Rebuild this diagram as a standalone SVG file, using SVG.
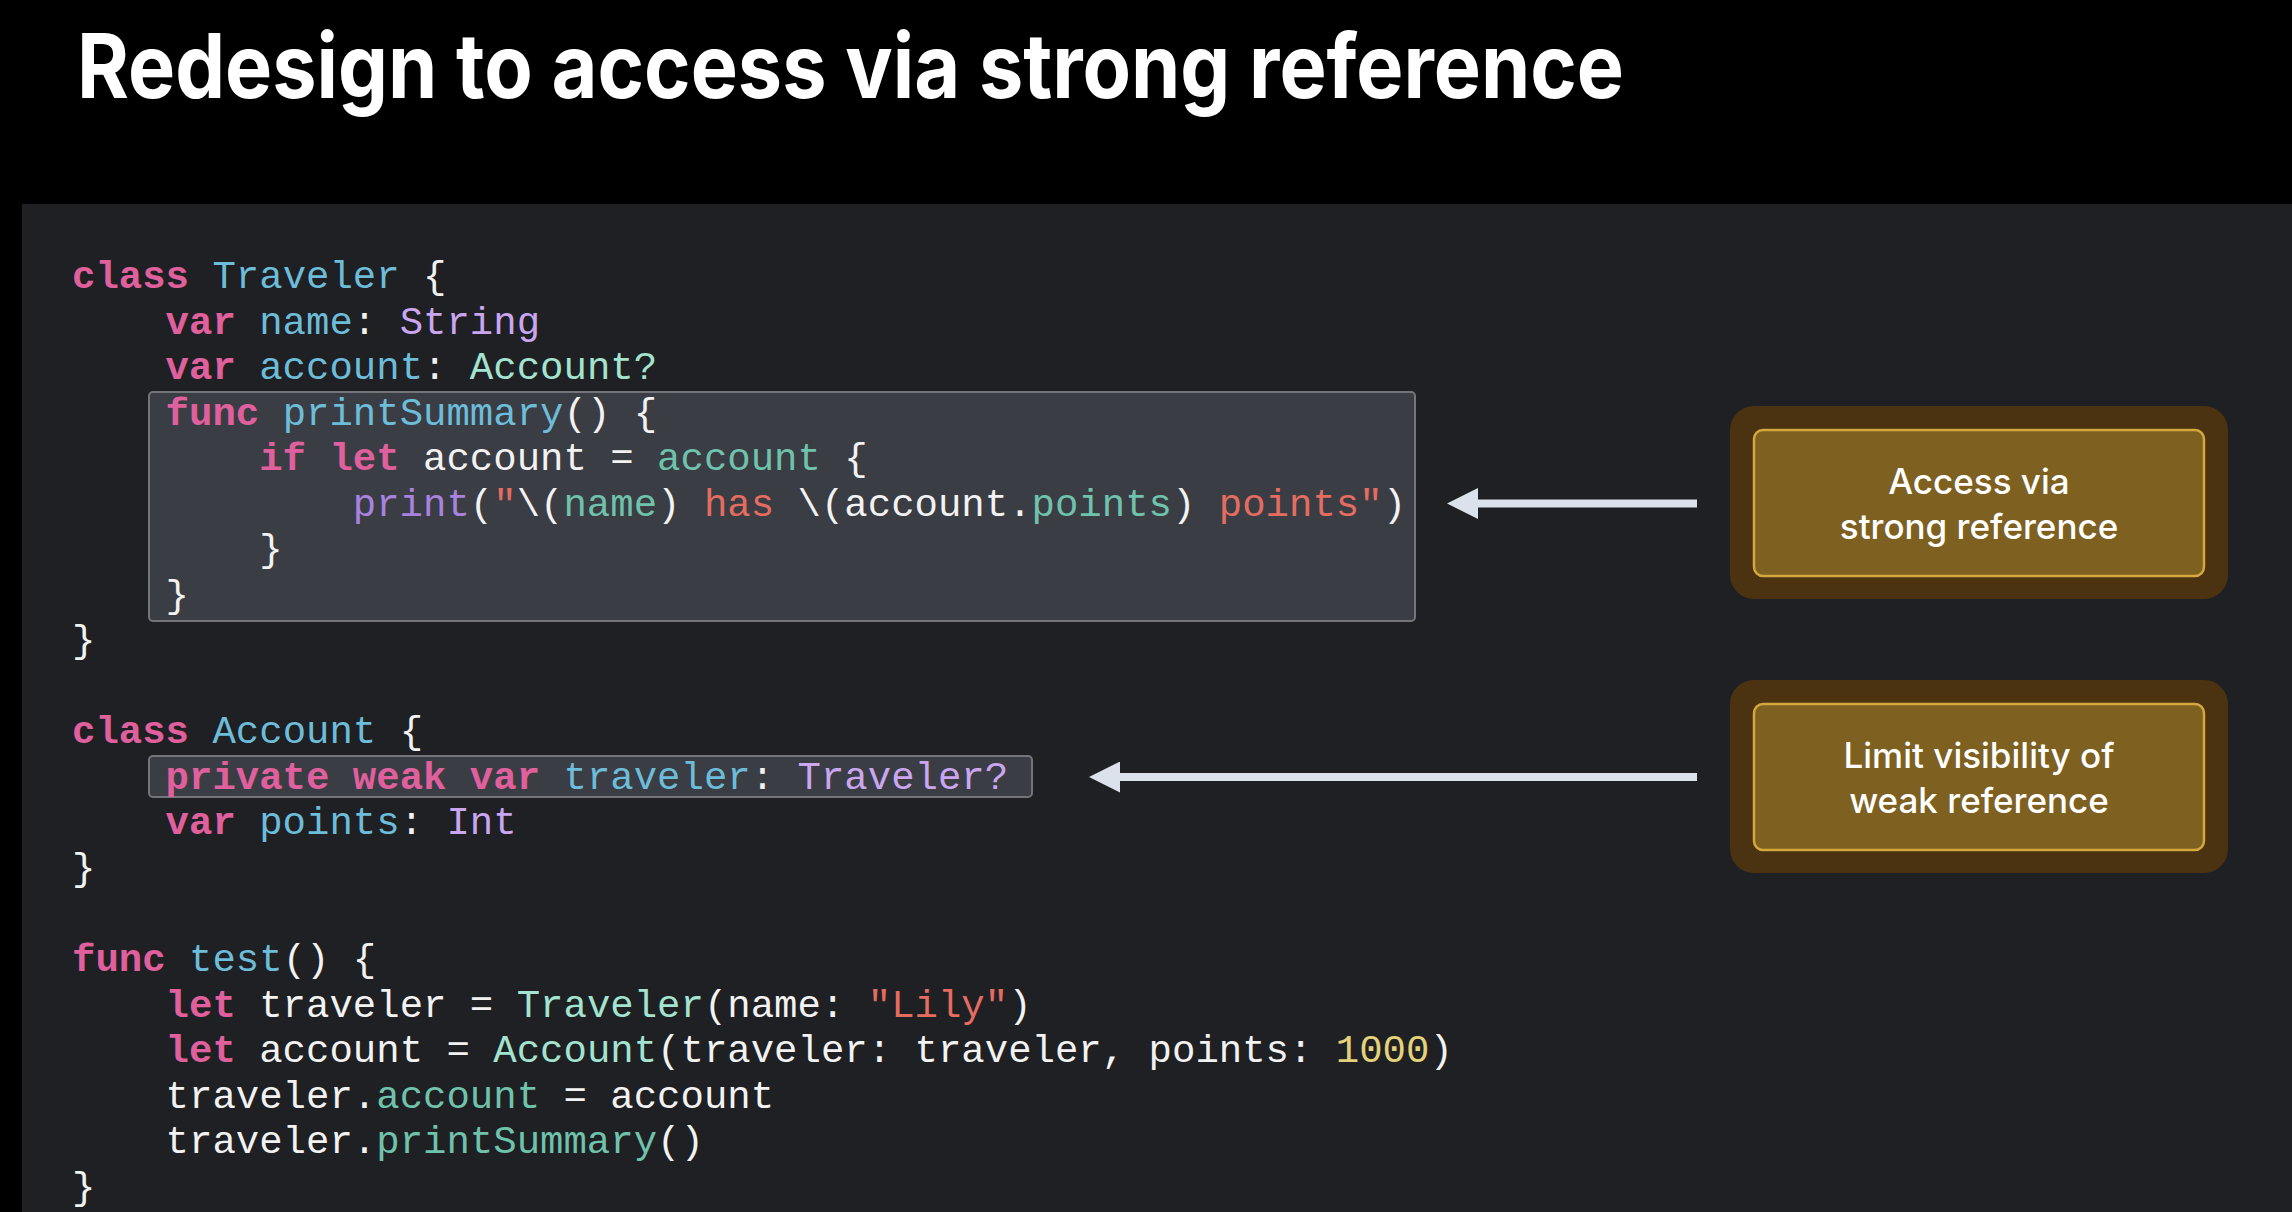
<svg xmlns="http://www.w3.org/2000/svg" width="2292" height="1212" viewBox="0 0 2292 1212">
  <style>
    .title { font-family: Inter, "Liberation Sans", sans-serif; font-weight: 700; font-size: 89px; fill: #ffffff; }
    .code { font-family: "Liberation Mono", "DejaVu Sans Mono", monospace; font-size: 39px; fill: #f2f2f2; white-space: pre; }
    .kw { fill: #e0609e; font-weight: 700; }
    .decl { fill: #6dbcd9; }
    .type { fill: #cba6f0; }
    .ptype { fill: #a3e3d0; }
    .pvar { fill: #6fc2ab; }
    .fn { fill: #a982e0; }
    .str { fill: #e46c61; }
    .num { fill: #e3d27a; }
    .hl { fill: #3b3d44; stroke: #73757b; stroke-width: 2; }
    .outer { fill: #4b3211; }
    .inner { fill: #7e6021; stroke: #d3a83c; stroke-width: 2.5; }
    .label { font-family: Inter, "Liberation Sans", sans-serif; font-weight: 500; font-size: 35px; fill: #ffffff; text-anchor: middle; }
    .arrow { stroke: #dce2eb; stroke-width: 8; fill: none; }
  </style>
  <defs>
    <marker id="head" viewBox="0 0 31 31" refX="0" refY="15.5" markerWidth="31" markerHeight="31" markerUnits="userSpaceOnUse" orient="auto">
      <path d="M0,0 L31,15.5 L0,31 Z" fill="#dce2eb"/>
    </marker>
  </defs>

  <rect x="0" y="0" width="2292" height="1212" fill="#000000"/>
  <text class="title" x="77" y="98" textLength="1547" lengthAdjust="spacingAndGlyphs">Redesign to access via strong reference</text>

  <rect x="22" y="204" width="2270" height="1008" fill="#1f2023"/>

  <g id="highlight-printSummary">
    <rect class="hl" x="149" y="392" width="1266" height="229" rx="4"/>
  </g>
  <g id="highlight-weak">
    <rect class="hl" x="149" y="756" width="883" height="41" rx="4"/>
  </g>

  <g id="code" class="code" xml:space="preserve">
    <text x="72" y="288"><tspan class="kw">class</tspan> <tspan class="decl">Traveler</tspan> {</text>
    <text x="165.6" y="333.5"><tspan class="kw">var</tspan> <tspan class="decl">name</tspan>: <tspan class="type">String</tspan></text>
    <text x="165.6" y="379.1"><tspan class="kw">var</tspan> <tspan class="decl">account</tspan>: <tspan class="ptype">Account?</tspan></text>
    <text x="165.6" y="424.6"><tspan class="kw">func</tspan> <tspan class="decl">printSummary</tspan>() {</text>
    <text x="259.2" y="470.1"><tspan class="kw">if</tspan> <tspan class="kw">let</tspan> account = <tspan class="pvar">account</tspan> {</text>
    <text x="352.8" y="515.7"><tspan class="fn">print</tspan>(<tspan class="str">"</tspan>\(<tspan class="pvar">name</tspan>)<tspan class="str"> has </tspan>\(account.<tspan class="pvar">points</tspan>)<tspan class="str"> points"</tspan>)</text>
    <text x="259.2" y="561.2">}</text>
    <text x="165.6" y="606.7">}</text>
    <text x="72" y="652.2">}</text>
    <text x="72" y="743.3"><tspan class="kw">class</tspan> <tspan class="decl">Account</tspan> {</text>
    <text x="165.6" y="788.8"><tspan class="kw">private</tspan> <tspan class="kw">weak</tspan> <tspan class="kw">var</tspan> <tspan class="decl">traveler</tspan>: <tspan class="type">Traveler?</tspan></text>
    <text x="165.6" y="834.4"><tspan class="kw">var</tspan> <tspan class="decl">points</tspan>: <tspan class="type">Int</tspan></text>
    <text x="72" y="879.9">}</text>
    <text x="72" y="971"><tspan class="kw">func</tspan> <tspan class="decl">test</tspan>() {</text>
    <text x="165.6" y="1016.5"><tspan class="kw">let</tspan> traveler = <tspan class="ptype">Traveler</tspan>(name: <tspan class="str">"Lily"</tspan>)</text>
    <text x="165.6" y="1062"><tspan class="kw">let</tspan> account = <tspan class="ptype">Account</tspan>(traveler: traveler, points: <tspan class="num">1000</tspan>)</text>
    <text x="165.6" y="1107.5">traveler.<tspan class="pvar">account</tspan> = account</text>
    <text x="165.6" y="1153.1">traveler.<tspan class="pvar">printSummary</tspan>()</text>
    <text x="72" y="1198.6">}</text>
  </g>

  <g id="connectors">
    <path class="arrow" d="M1697,503.5 L1478,503.5" marker-end="url(#head)"/>
    <path class="arrow" d="M1697,777 L1120,777" marker-end="url(#head)"/>
  </g>

  <g id="node-access-strong">
    <rect class="outer" x="1730" y="406" width="498" height="193" rx="24"/>
    <rect class="inner" x="1754" y="430" width="450" height="146" rx="9"/>
    <text class="label" x="1979" y="494">Access via</text>
    <text class="label" x="1979" y="539">strong reference</text>
  </g>

  <g id="node-limit-weak">
    <rect class="outer" x="1730" y="680" width="498" height="193" rx="24"/>
    <rect class="inner" x="1754" y="704" width="450" height="146" rx="9"/>
    <text class="label" x="1979" y="768">Limit visibility of</text>
    <text class="label" x="1979" y="813">weak reference</text>
  </g>
</svg>
